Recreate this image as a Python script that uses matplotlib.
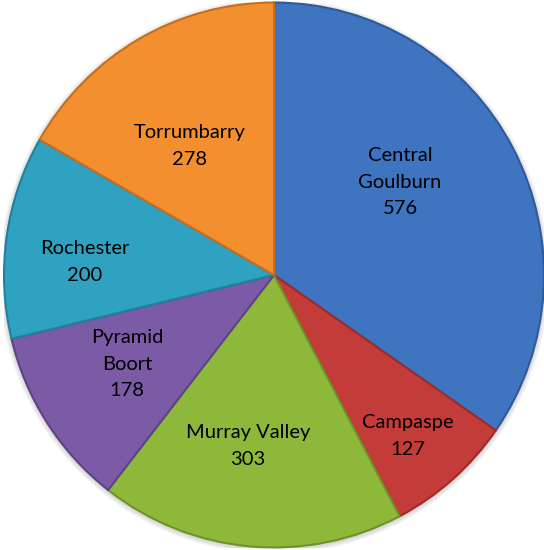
import matplotlib
matplotlib.use('Agg')
import matplotlib.pyplot as plt
from matplotlib.patches import Circle

# Irrigation areas and counts
areas = ['Central\nGoulburn', 'Campaspe', 'Murray Valley', 'Pyramid\nBoort', 'Rochester', 'Torrumbarry']
counts = [576, 127, 303, 178, 200, 278]
colors = ['#3F74C0', '#C43C39', '#8DB83A', '#7B5AA6', '#2FA2C1', '#F38F2E']
edge_colors = ['#2E5A99', '#9A2C2A', '#6E9129', '#5E4384', '#21809A', '#C56F1E']

# label centres (data coords, pie radius 1)
label_pos = [(0.467, 0.341), (0.496, -0.591), (-0.096, -0.628),
             (-0.544, -0.327), (-0.70, 0.048), (-0.311, 0.473)]

fig = plt.figure(figsize=(5.44, 5.5), dpi=100)
W, H = 544, 550
cx, cy, rx, ry = 274, 275, 270, 272.5
ax = fig.add_axes([(cx - rx) / W, (H - cy - ry) / H, 2 * rx / W, 2 * ry / H])

# soft shadow behind the pie
for i, a in enumerate([0.05, 0.05, 0.05]):
    ax.add_patch(Circle((0.0, -0.005), 1.0 + 0.006 * (i + 1), color='black', alpha=a, lw=0, zorder=0))

wedges, _ = ax.pie(counts, colors=colors, startangle=90, counterclock=False,
                   wedgeprops=dict(linewidth=1.5, zorder=1))
for w, ec in zip(wedges, edge_colors):
    w.set_edgecolor(ec)

for name, n, (x, y) in zip(areas, counts, label_pos):
    ax.text(x, y, '{}\n{}'.format(name, n), ha='center', va='center',
            fontsize=14.5, family=['Lato', 'DejaVu Sans'], color='black',
            linespacing=1.7, zorder=5)

ax.set_aspect('auto')
ax.set_xlim(-1, 1)
ax.set_ylim(-1, 1)
ax.axis('off')

fig.savefig('out.png', dpi=100, facecolor='white')
